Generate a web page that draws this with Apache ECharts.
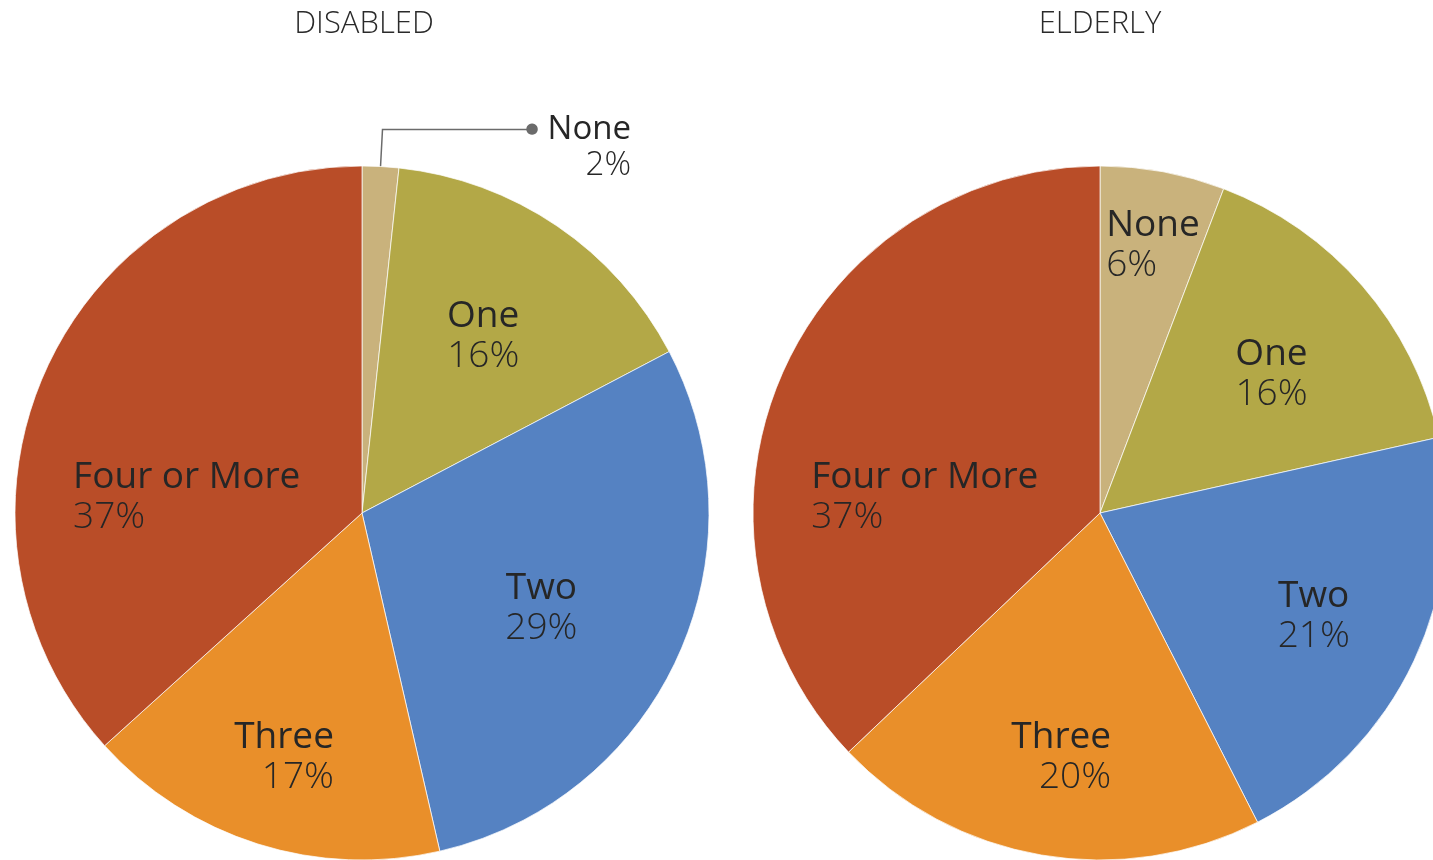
<!DOCTYPE html>
<html>
<head>
<meta charset="utf-8">
<script src="https://cdn.jsdelivr.net/npm/echarts@6/dist/echarts.min.js"></script>
<style>
  html, body { margin: 0; padding: 0; background: #fff; }
  #main { width: 1433px; height: 860px; }
</style>
</head>
<body>
<div id="main"></div>
<script>
// data (percent of each group)
const categories = ['None', 'One', 'Two', 'Three', 'Four or More'];
const disabledValues = [1.7, 15.6, 29.1, 16.9, 36.7];
const elderlyValues = [5.8, 15.7, 21.0, 20.4, 37.1];
const groupTitles = ['DISABLED', 'ELDERLY'];

const colors = ['#c9b27c', '#b3a847', '#5582c2', '#e98f2a', '#b94d28'];
const textColor = '#262626';

// label nudges (px) from the default inside spot, and line alignment
const disabledShift = [[0, 0], [22, -31], [19, 22], [-25, 76], [-14, 56]];
const elderlyShift = [[21, -94], [38, -23], [54, 28], [-9, 70], [-13, 54]];
const disabledAlign = ['L', 'C', 'C', 'R', 'L'];
const elderlyAlign = ['L', 'C', 'C', 'R', 'L'];

const myChart = echarts.init(document.getElementById('main'));

const font = 'Open Sans';
const rich = {};
['L', 'C', 'R'].forEach(function (a) {
  const al = a === 'L' ? 'left' : a === 'C' ? 'center' : 'right';
  rich['n' + a] = { fontFamily: font, fontSize: 37, fontWeight: 400, color: textColor, lineHeight: 40, align: al };
  rich['p' + a] = { fontFamily: font, fontSize: 37, fontWeight: 300, color: textColor, lineHeight: 40, align: al };
});
// small outside label (left "None")
rich.sp = { fontSize: 10, lineHeight: 36 };
rich.dot = { fontFamily: 'DejaVu Sans', fontSize: 15, color: '#6b6b6b', padding: [0, 9, 0, 0], lineHeight: 36 };
rich.no = { fontFamily: font, fontSize: 33, fontWeight: 400, color: textColor, lineHeight: 36 };
rich.po = { fontFamily: font, fontSize: 33, fontWeight: 300, color: textColor, lineHeight: 36, align: 'right' };

function makeData(values) {
  return values.map(function (v, i) {
    return { name: categories[i], value: v, itemStyle: { color: colors[i] } };
  });
}

function makeSeries(values, center, aligns, shifts, outsideFirst) {
  const data = makeData(values);
  if (outsideFirst) {
    data[0].label = {
      position: 'outside',
      distanceToLabelLine: -5,
      formatter: function (p) {
        return '{sp| }\n{dot|●}{no|' + p.name + '}\n{po|' + Math.round(p.percent) + '%}';
      }
    };
    data[0].labelLine = {
      show: true,
      length: 37,
      length2: 148,
      lineStyle: { color: '#6b6b6b', width: 1.5 }
    };
  }
  return {
    type: 'pie',
    center: center,
    radius: 347,
    startAngle: 90,
    clockwise: true,
    avoidLabelOverlap: false,
    silent: true,
    itemStyle: { borderColor: 'rgba(255,255,255,0.7)', borderWidth: 1 },
    label: {
      show: true,
      position: 'inside',
      rich: rich,
      formatter: function (p) {
        const a = aligns[p.dataIndex];
        return '{n' + a + '|' + p.name + '}\n{p' + a + '|' + Math.round(p.percent) + '%}';
      }
    },
    labelLine: { show: false },
    labelLayout: function (p) {
      if (outsideFirst && p.dataIndex === 0) return {};
      const s = shifts[p.dataIndex];
      return { dx: s[0], dy: s[1] };
    },
    emphasis: { disabled: true },
    data: data
  };
}

const titleStyle = { fontFamily: font, fontWeight: 300, fontSize: 31, color: '#2a2a2a' };

let options = {
  animation: false,
  title: [
    { text: groupTitles[0], left: 359, top: 4, textAlign: 'center', textStyle: titleStyle },
    { text: groupTitles[1], left: 1095, top: 4, textAlign: 'center', textStyle: titleStyle }
  ],
  series: [
    makeSeries(disabledValues, [362, 513], disabledAlign, disabledShift, true),
    makeSeries(elderlyValues, [1100, 513], elderlyAlign, elderlyShift, false)
  ]
};

myChart.setOption(options);
</script>
</body>
</html>
